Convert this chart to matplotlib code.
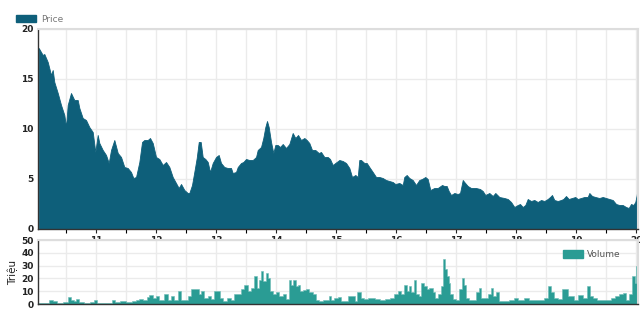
import matplotlib.pyplot as plt
from matplotlib.patches import Patch

# price, x in years after 2010
price_t = [0.045, 0.112, 0.138, 0.195, 0.25, 0.278, 0.305, 0.362, 0.417, 0.472,
           0.5, 0.528, 0.583, 0.638, 0.695, 0.722, 0.778, 0.833, 0.888, 0.945,
           0.988, 1.028, 1.055, 1.112, 1.167, 1.212, 1.25, 1.305, 1.362, 1.417,
           1.472, 1.528, 1.583, 1.622, 1.667, 1.722, 1.767, 1.805, 1.862, 1.9,
           1.945, 2.0, 2.055, 2.112, 2.167, 2.222, 2.278, 2.333, 2.378, 2.417,
           2.472, 2.528, 2.555, 2.6, 2.638, 2.678, 2.712, 2.745, 2.778, 2.822,
           2.862, 2.9, 2.945, 3.0, 3.045, 3.083, 3.138, 3.195, 3.25, 3.278,
           3.333, 3.362, 3.417, 3.455, 3.5, 3.555, 3.612, 3.667, 3.695, 3.75,
           3.788, 3.822, 3.85, 3.878, 3.917, 3.955, 3.988, 4.028, 4.067, 4.112,
           4.167, 4.222, 4.278, 4.322, 4.367, 4.417, 4.472, 4.512, 4.555, 4.6,
           4.655, 4.712, 4.75, 4.805, 4.862, 4.9, 4.945, 4.988, 5.055, 5.112,
           5.167, 5.222, 5.267, 5.322, 5.362, 5.388, 5.417, 5.472, 5.512, 5.555,
           5.612, 5.667, 5.722, 5.778, 5.833, 5.888, 5.945, 5.988, 6.055, 6.112,
           6.138, 6.178, 6.222, 6.278, 6.333, 6.388, 6.433, 6.488, 6.528, 6.572,
           6.638, 6.695, 6.767, 6.805, 6.845, 6.878, 6.917, 6.972, 7.028, 7.067,
           7.112, 7.138, 7.195, 7.25, 7.333, 7.4, 7.445, 7.488, 7.555, 7.612,
           7.655, 7.722, 7.805, 7.862, 7.917, 7.972, 8.028, 8.067, 8.112, 8.155,
           8.195, 8.25, 8.305, 8.362, 8.417, 8.472, 8.528, 8.567, 8.6, 8.638,
           8.695, 8.75, 8.788, 8.833, 8.878, 8.933, 8.988, 9.028, 9.083, 9.138,
           9.195, 9.222, 9.267, 9.322, 9.388, 9.445, 9.5, 9.555, 9.612, 9.667,
           9.722, 9.778, 9.833, 9.878, 9.917, 9.955, 9.988, 10.012, 10.033]
price = [18.1, 17.4, 17.5, 16.7, 15.4, 15.9, 14.7, 13.6, 12.4, 11.4,
         10.2, 12.4, 13.6, 12.9, 12.9, 12.1, 11.1, 10.9, 10.2, 9.7,
         7.7, 9.4, 8.6, 7.9, 7.4, 6.6, 7.9, 8.9, 7.6, 7.2,
         6.2, 6.1, 5.7, 5.1, 5.2, 6.7, 8.7, 8.9, 8.9, 9.1,
         8.6, 7.2, 7.0, 6.4, 6.7, 6.2, 5.2, 4.6, 4.1, 4.5,
         3.9, 3.6, 3.6, 4.4, 5.7, 7.1, 8.7, 8.7, 7.2, 7.0,
         6.7, 5.7, 6.6, 7.2, 7.4, 6.6, 6.2, 6.1, 6.1, 5.6,
         5.7, 6.2, 6.6, 6.7, 7.0, 6.9, 6.9, 7.2, 7.9, 8.2,
         9.1, 10.2, 10.8, 10.2, 8.7, 7.6, 8.4, 8.4, 8.2, 8.5,
         8.1, 8.5, 9.6, 9.1, 9.4, 8.9, 9.1, 8.9, 8.6, 7.9,
         7.9, 7.6, 7.7, 7.2, 7.2, 7.0, 6.4, 6.6, 6.9, 6.8,
         6.6, 6.1, 5.2, 5.4, 5.2, 6.9, 6.9, 6.6, 6.6, 6.2,
         5.7, 5.2, 5.2, 5.1, 4.9, 4.8, 4.7, 4.5, 4.6, 4.4,
         5.2, 5.4, 5.1, 4.9, 4.4, 4.9, 5.0, 5.2, 5.0, 3.9,
         4.1, 4.1, 4.4, 4.3, 4.3, 3.8, 3.4, 3.6, 3.5, 3.6,
         4.9, 4.7, 4.3, 4.1, 4.1, 4.0, 3.8, 3.4, 3.6, 3.3,
         3.6, 3.2, 3.1, 3.0, 2.7, 2.2, 2.4, 2.5, 2.2, 2.4,
         3.0, 2.8, 2.9, 2.7, 2.9, 2.8, 3.0, 3.2, 3.4, 2.9,
         2.8, 2.9, 3.0, 3.3, 3.0, 3.1, 3.2, 3.0, 3.1, 3.2,
         3.2, 3.6, 3.3, 3.2, 3.1, 3.2, 3.1, 3.0, 2.9, 2.5,
         2.4, 2.4, 2.2, 2.1, 2.5, 2.4, 2.7, 3.4, 4.6]

# volume (trieu), x in years after 2010
vol_t = [0.04, 0.15, 0.27, 0.31, 0.4, 0.5, 0.56, 0.6, 0.65, 0.69,
         0.75, 0.85, 0.95, 0.99, 1.05, 1.15, 1.25, 1.28, 1.35, 1.45,
         1.55, 1.65, 1.69, 1.75, 1.83, 1.86, 1.92, 1.97, 2.03, 2.08,
         2.17, 2.22, 2.28, 2.33, 2.4, 2.44, 2.5, 2.56, 2.61, 2.66,
         2.69, 2.73, 2.78, 2.83, 2.89, 2.94, 3.0, 3.04, 3.08, 3.14,
         3.22, 3.28, 3.33, 3.39, 3.44, 3.5, 3.56, 3.61, 3.66, 3.69,
         3.73, 3.77, 3.81, 3.84, 3.88, 3.92, 3.97, 4.03, 4.08, 4.14,
         4.19, 4.23, 4.27, 4.31, 4.34, 4.38, 4.42, 4.47, 4.53, 4.58,
         4.64, 4.69, 4.75, 4.81, 4.86, 4.9, 4.94, 5.0, 5.06, 5.11,
         5.17, 5.23, 5.29, 5.33, 5.38, 5.44, 5.5, 5.56, 5.62, 5.69,
         5.78, 5.86, 5.94, 6.0, 6.06, 6.11, 6.16, 6.19, 6.23, 6.28,
         6.32, 6.36, 6.4, 6.44, 6.49, 6.53, 6.58, 6.64, 6.67, 6.72,
         6.77, 6.81, 6.83, 6.86, 6.89, 6.92, 6.97, 7.03, 7.08, 7.11,
         7.14, 7.19, 7.25, 7.31, 7.36, 7.4, 7.44, 7.5, 7.56, 7.6,
         7.64, 7.69, 7.75, 7.83, 7.92, 8.0, 8.08, 8.17, 8.25, 8.33,
         8.42, 8.5, 8.57, 8.61, 8.67, 8.72, 8.81, 8.84, 8.89, 8.94,
         9.0, 9.08, 9.14, 9.21, 9.25, 9.31, 9.39, 9.47, 9.56, 9.61,
         9.69, 9.75, 9.81, 9.86, 9.92, 9.96, 9.99, 10.02, 10.03]
volume = [1, 1, 3, 2.5, 1, 1.5, 5.5, 3, 2.5, 4,
          1.5, 1, 1.5, 3.5, 1, 1, 1, 3, 1.5, 2,
          1.5, 2, 3.5, 4, 3, 5.5, 7, 5, 6, 3.5,
          7.5, 3.5, 6, 3.5, 10, 3.5, 3, 6, 12, 11.5,
          12, 7.5, 10, 5, 6, 4, 10, 10, 5, 2.5,
          5, 3, 8, 7.5, 11.5, 14.6, 10, 12.7, 22, 12.7,
          19, 25.8, 18, 24.5, 20.5, 10, 7.5, 9, 6, 7.5,
          4, 19, 14.6, 19, 14, 14.6, 10, 11, 12, 9,
          7.5, 3.5, 2.5, 3.5, 3, 6, 3, 5, 5.5, 2,
          2.5, 6, 6, 2.5, 9, 5, 4, 5, 5, 4,
          3.5, 4, 5, 7.5, 10, 7.5, 15, 10, 14, 9,
          19, 7.5, 6, 16.5, 14, 11.5, 12.7, 9, 5, 7.5,
          14, 35.4, 27, 22, 16.5, 7.5, 4, 3.5, 11.5, 20.5,
          15, 5, 3.5, 3.5, 9, 12.7, 5, 5, 7.5, 12.7,
          6, 9, 2.5, 2.5, 3.5, 5, 3, 5, 3.5, 3.5,
          3.5, 5, 14, 9, 5, 4, 11.5, 11.5, 6, 6,
          3.5, 7, 5, 14, 6, 5, 3.5, 3, 3.5, 5,
          6, 7.5, 8.5, 3.5, 7.5, 22, 16.5, 29.7, 50]

year_ticks = [1, 2, 3, 4, 5, 6, 7, 8, 9, 10]
year_labels = ['11', '12', '13', '14', '15', '16', '17', '18', '19', '20']
half_years = [0.5, 1.5, 2.5, 3.5, 4.5, 5.5, 6.5, 7.5, 8.5, 9.5]

price_color = '#0e5f7a'
vol_color = '#2a9c94'
grid_color = '#ebebeb'
x0, x1 = 0.033, 10.033

fig = plt.figure(figsize=(6.4, 3.1), dpi=100)
ax = fig.add_axes([38 / 640, 1 - 229 / 310, 600 / 640, 200 / 310])
ax2 = fig.add_axes([38 / 640, 1 - 304 / 310, 600 / 640, 64 / 310])

# --- price ---
ax.fill_between(price_t, price, 0, color=price_color, lw=0.6, edgecolor=price_color)
ax.set_xlim(x0, x1)
ax.set_ylim(0, 20)
ax.set_yticks([0, 5, 10, 15, 20])
ax.set_xticks(year_ticks)
ax.set_xticks(half_years, minor=True)
ax.set_xticklabels(year_labels)
for a in (ax, ax2):
    a.grid(True, which='both', color=grid_color, lw=1)
    a.set_axisbelow(True)
    a.tick_params(labelsize=6.5, colors='#222222', length=3, width=0.8)
    a.tick_params(axis='x', which='minor', length=3, width=0.8)
    a.tick_params(axis='y', length=0, pad=3)
    for s in ('top', 'right'):
        a.spines[s].set_color('#dddddd')
        a.spines[s].set_linewidth(1.5)
    for s in ('left', 'bottom'):
        a.spines[s].set_color('#333333')
        a.spines[s].set_linewidth(1)
ax.tick_params(axis='x', pad=2)
for lbl in ax.get_xticklabels() + ax.get_yticklabels():
    lbl.set_fontweight('bold')

ax.legend(handles=[Patch(color=price_color, label='Price')], loc='lower left',
          bbox_to_anchor=(-0.045, 1.0), frameon=False, fontsize=6.5,
          handlelength=2.2, handleheight=0.9, labelcolor='#777777',
          borderaxespad=0.2, handletextpad=0.5)

# --- volume ---
ax2.fill_between(vol_t, volume, 0, step='mid', color=vol_color, lw=0.4,
                 edgecolor='#6dbcb6')
ax2.set_xlim(x0, x1)
ax2.set_ylim(0, 50)
ax2.set_yticks([0, 10, 20, 30, 40, 50])
ax2.set_xticks(year_ticks)
ax2.set_xticks(half_years, minor=True)
ax2.tick_params(axis='x', which='both', length=0, labelbottom=False)
for lbl in ax2.get_yticklabels():
    lbl.set_fontweight('bold')
ax2.set_ylabel('Triệu', fontsize=7.5, color='#222222', labelpad=2)
ax2.legend(handles=[Patch(color=vol_color, label='Volume')], loc='upper right',
           bbox_to_anchor=(0.985, 0.97), frameon=False, fontsize=6.5,
           handlelength=2.2, handleheight=0.9, labelcolor='#555555',
           handletextpad=0.5)

fig.savefig('out.png', dpi=100)
